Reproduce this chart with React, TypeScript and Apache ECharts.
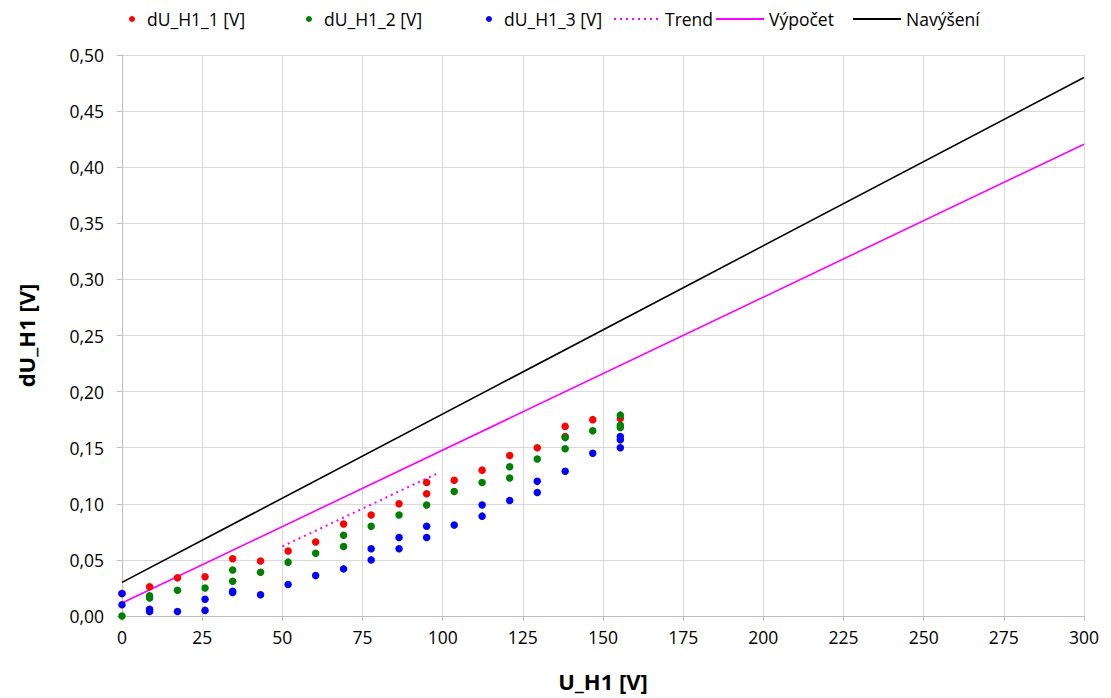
import React, { useEffect, useRef } from "react";
import * as echarts from "echarts";

// U_H1 [V] measurement points
const U = [0, 8.6, 17.3, 25.9, 34.5, 43.2, 51.8, 60.4, 69.1, 77.7, 86.4, 95.0, 103.6, 112.3, 120.9, 129.5, 138.2, 146.8, 155.4];

// dU_H1 readings, one list per measurement index (several readings per voltage)
const dU1: [number, number][] = [
  [U[0], 0.02], [U[1], 0.026], [U[2], 0.034], [U[3], 0.035], [U[4], 0.051], [U[5], 0.049],
  [U[6], 0.058], [U[7], 0.066], [U[8], 0.082], [U[9], 0.09], [U[10], 0.1], [U[11], 0.119],
  [U[11], 0.109], [U[12], 0.121], [U[13], 0.13], [U[14], 0.143], [U[15], 0.15], [U[16], 0.169],
  [U[16], 0.16], [U[17], 0.175], [U[18], 0.176],
];
const dU2: [number, number][] = [
  [U[0], 0.0], [U[1], 0.016], [U[1], 0.018], [U[2], 0.023], [U[3], 0.025], [U[4], 0.041],
  [U[4], 0.031], [U[5], 0.039], [U[6], 0.048], [U[7], 0.056], [U[8], 0.072], [U[8], 0.062],
  [U[9], 0.08], [U[10], 0.09], [U[11], 0.099], [U[12], 0.111], [U[13], 0.119], [U[14], 0.133],
  [U[14], 0.123], [U[15], 0.14], [U[16], 0.159], [U[16], 0.149], [U[17], 0.165], [U[18], 0.179],
  [U[18], 0.17], [U[18], 0.168],
];
const dU3: [number, number][] = [
  [U[0], 0.02], [U[0], 0.01], [U[1], 0.004], [U[1], 0.006], [U[2], 0.004], [U[3], 0.015],
  [U[3], 0.005], [U[4], 0.021], [U[4], 0.022], [U[5], 0.019], [U[6], 0.028], [U[7], 0.036],
  [U[8], 0.042], [U[9], 0.06], [U[9], 0.05], [U[10], 0.07], [U[10], 0.06], [U[11], 0.08],
  [U[11], 0.07], [U[12], 0.081], [U[13], 0.099], [U[13], 0.089], [U[14], 0.103], [U[15], 0.12],
  [U[15], 0.11], [U[16], 0.129], [U[17], 0.145], [U[18], 0.16], [U[18], 0.157], [U[18], 0.15],
];
const trend: [number, number][] = [[50, 0.062], [99, 0.128]];
const vypocet: [number, number][] = [[0, 0.0115], [300, 0.4205]];
const navyseni: [number, number][] = [[0, 0.03], [300, 0.48]];

const xTicks = { min: 0, max: 300, interval: 25 };
const yTicks = { min: 0, max: 0.5, interval: 0.05 };

const FONT = "'Open Sans', 'Liberation Sans', sans-serif";

export default function App() {
  const ref = useRef<HTMLDivElement>(null);
  useEffect(() => {
    document.body.style.margin = "0";
    if (!ref.current) return;
    const chart = echarts.init(ref.current, undefined, { renderer: "svg" });
    const textStyle = { fontFamily: FONT, fontSize: 17.5, color: "#000" };
    const dotLegend = (name: string, left: number) => ({
      data: [name], left, top: 10, icon: "circle", itemWidth: 20, itemHeight: 6,
      textStyle, padding: 0,
    });
    const lineLegend = (name: string, left: number, w: number) => ({
      data: [name], left, top: 10, itemWidth: w, itemHeight: 14, textStyle, padding: 0,
      itemStyle: { opacity: 0 },
    });
    chart.setOption({
      animation: false,
      backgroundColor: "#fff",
      textStyle: { fontFamily: FONT },
      legend: [
        dotLegend("dU_H1_1 [V]", 129),
        dotLegend("dU_H1_2 [V]", 306),
        dotLegend("dU_H1_3 [V]", 486),
        lineLegend("Trend", 613, 46),
        lineLegend("Výpočet", 715, 48),
        lineLegend("Navýšení", 852, 48),
      ],
      grid: { left: 122, right: 27, top: 55, bottom: 82, containLabel: false, outerBoundsMode: "none" },
      xAxis: {
        type: "value", ...xTicks,
        name: "U_H1 [V]", nameLocation: "middle", nameGap: 54,
        nameTextStyle: { fontFamily: FONT, fontSize: 22, fontWeight: "bold", color: "#000" },
        axisLine: { show: true, lineStyle: { color: "#bfbfbf" } },
        axisTick: { show: true, length: 5, lineStyle: { color: "#bfbfbf" } },
        axisLabel: { fontFamily: FONT, fontSize: 17.5, color: "#000", margin: 12 },
        splitLine: { show: true, lineStyle: { color: "#d9d9d9" } },
      },
      yAxis: {
        type: "value", ...yTicks,
        name: "dU_H1 [V]", nameLocation: "middle", nameGap: 85, nameRotate: 90,
        nameTextStyle: { fontFamily: FONT, fontSize: 22, fontWeight: "bold", color: "#000" },
        axisLine: { show: true, lineStyle: { color: "#bfbfbf" } },
        axisTick: { show: true, length: 5, lineStyle: { color: "#bfbfbf" } },
        axisLabel: {
          fontFamily: FONT, fontSize: 17.5, color: "#000", margin: 18,
          formatter: (v: number) => v.toFixed(2).replace(".", ","),
        },
        splitLine: { show: true, lineStyle: { color: "#d9d9d9" } },
      },
      series: [
        { name: "dU_H1_1 [V]", type: "scatter", data: dU1, symbolSize: 7.5, itemStyle: { color: "#ff0000", opacity: 1 }, z: 3 },
        { name: "dU_H1_2 [V]", type: "scatter", data: dU2, symbolSize: 7.5, itemStyle: { color: "#008000", opacity: 1 }, z: 4 },
        { name: "dU_H1_3 [V]", type: "scatter", data: dU3, symbolSize: 7.5, itemStyle: { color: "#0000ff", opacity: 1 }, z: 5 },
        { name: "Trend", type: "line", data: trend, symbol: "none", lineStyle: { color: "#ff00ff", width: 2, type: [2, 4] }, itemStyle: { color: "#ff00ff" }, z: 2 },
        { name: "Výpočet", type: "line", data: vypocet, symbol: "none", lineStyle: { color: "#ff00ff", width: 1.6 }, itemStyle: { color: "#ff00ff" }, z: 2 },
        { name: "Navýšení", type: "line", data: navyseni, symbol: "none", lineStyle: { color: "#000000", width: 1.6 }, itemStyle: { color: "#000000" }, z: 2 },
      ],
    });
    return () => chart.dispose();
  }, []);
  return <div ref={ref} style={{ width: 1111, height: 698 }} />;
}
